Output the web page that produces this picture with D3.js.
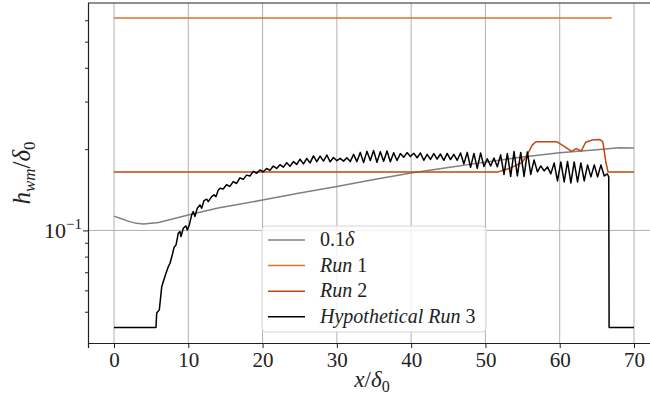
<!DOCTYPE html>
<html>
<head>
<meta charset="utf-8">
<script src="https://cdn.jsdelivr.net/npm/d3@7"></script>
<style>
  body { margin: 0; background: #fff; }
  svg { display: block; }
  text { font-family: "Liberation Serif", "DejaVu Serif", serif; fill: #222; }
</style>
</head>
<body>
<script>
// x positions in units of delta_0
const xTicks = [0, 10, 20, 30, 40, 50, 60, 70];
const yMinorTicks = [0.05, 0.06, 0.07, 0.08, 0.09, 0.2, 0.3, 0.4, 0.5, 0.6];
const yMajorTicks = [0.1];

// 0.1 delta (grey)
const deltaX = [0, 1, 2, 3, 4, 6, 8, 10, 14, 20, 25, 30, 35, 40, 45, 50, 55, 60, 65, 68, 70];
const deltaY = [0.113, 0.1105, 0.108, 0.1062, 0.1057, 0.107, 0.1105, 0.1141, 0.121, 0.1295, 0.1375,
  0.1455, 0.1545, 0.163, 0.171, 0.179, 0.187, 0.194, 0.199, 0.2025, 0.202];

// Run 1
const run1X = [0, 67];
const run1Y = [0.612, 0.612];

// Run 2
const run2X = [0, 51.7, 53.3, 54.9, 55.6, 56.3, 56.8, 59.6, 60.7, 61.6, 62.2, 62.5, 62.9, 63.5, 64.3, 65.4, 65.8, 66.2, 66.5, 70];
const run2Y = [0.1647, 0.1647, 0.170, 0.178, 0.19, 0.207, 0.213, 0.213, 0.204, 0.196, 0.201, 0.199, 0.197, 0.212,
  0.216, 0.217, 0.213, 0.18, 0.1647, 0.1647];

// Hypothetical Run 3
const run3 = [
  [0, 0.0437], [5.65, 0.0437], [5.75, 0.0495], [6.10, 0.0508], [6.29, 0.057], [6.42, 0.0617], [6.64, 0.0647],
  [7.0, 0.0694], [7.31, 0.0734], [7.54, 0.0756], [7.9, 0.0823], [8.08, 0.0864], [8.35, 0.0884], [8.65, 0.0976],
  [8.88, 0.099], [9.02, 0.0949], [9.33, 0.1019], [9.69, 0.1039], [9.87, 0.1004], [10.13, 0.1048], [10.46, 0.1142],
  [10.67, 0.1174], [10.9, 0.1127], [11.21, 0.1208], [11.57, 0.1243], [11.8, 0.1208], [12.11, 0.1289], [12.48, 0.1305],
  [12.69, 0.1278], [13.15, 0.1334], [13.46, 0.1354], [13.73, 0.1334], [14.04, 0.1412], [14.27, 0.1433],
  [14.7, 0.1424], [15.15, 0.1476], [15.6, 0.1455], [16.05, 0.1516], [16.5, 0.1492], [16.95, 0.1565], [17.4, 0.1545],
  [17.85, 0.1602], [18.3, 0.1591], [18.75, 0.1654], [19.2, 0.1628], [19.65, 0.1675], [20.1, 0.1649], [20.55, 0.1695],
  [21.0, 0.1669], [21.45, 0.1731], [21.9, 0.1697], [22.35, 0.1752], [22.8, 0.1715], [23.25, 0.1781], [23.7, 0.1728],
  [24.15, 0.1798], [24.6, 0.1755], [25.05, 0.1835], [25.5, 0.1763], [25.95, 0.1846], [26.4, 0.1778], [26.85, 0.1888],
  [27.3, 0.1796], [27.75, 0.1885], [28.2, 0.1806], [28.65, 0.1902], [29.1, 0.1795], [29.55, 0.1862], [30.0, 0.1812],
  [30.45, 0.1848], [30.9, 0.1805], [31.35, 0.1858], [31.8, 0.1798], [32.25, 0.1912], [32.7, 0.1798], [33.15, 0.1945],
  [33.6, 0.1785], [34.05, 0.1962], [34.5, 0.1815], [34.95, 0.1975], [35.4, 0.1788], [35.85, 0.1955], [36.3, 0.1802],
  [36.75, 0.1968], [37.2, 0.1795], [37.65, 0.1938], [38.1, 0.1815], [38.55, 0.1925], [39.0, 0.1866], [39.45, 0.1942],
  [39.9, 0.1877], [40.35, 0.193], [40.8, 0.1858], [41.25, 0.1935], [41.7, 0.1818], [42.15, 0.1912], [42.6, 0.1832],
  [43.05, 0.1926], [43.5, 0.1838], [43.95, 0.1918], [44.4, 0.1818], [44.85, 0.1928], [45.3, 0.183], [45.75, 0.1912],
  [46.2, 0.1818], [46.65, 0.1935], [47.1, 0.1763], [47.55, 0.1945], [48.0, 0.1712], [48.45, 0.1928], [48.9, 0.1698],
  [49.35, 0.1936], [49.8, 0.1725], [50.25, 0.1842], [50.7, 0.1731], [51.15, 0.1855], [51.6, 0.172], [52.05, 0.1904],
  [52.5, 0.1612], [52.95, 0.1928], [53.4, 0.1585], [53.85, 0.196], [54.3, 0.1592], [54.75, 0.1945], [55.2, 0.1585],
  [55.65, 0.1952], [56.1, 0.1612], [56.55, 0.1824], [57.0, 0.1647], [57.45, 0.1733], [57.9, 0.1661], [58.35, 0.1719],
  [58.8, 0.1619], [59.25, 0.1778], [59.7, 0.1525], [60.15, 0.1793], [60.6, 0.1512], [61.05, 0.1801], [61.5, 0.1499],
  [61.95, 0.1793], [62.4, 0.1512], [62.85, 0.1778], [63.3, 0.1525], [63.75, 0.1748], [64.2, 0.1578], [64.65, 0.1748],
  [65.1, 0.1578], [65.55, 0.1748], [66.0, 0.1591], [66.4, 0.162], [66.6, 0.158], [66.65, 0.0437], [70, 0.0437]
];

const w = 650, h = 398;
const pl = 88, pr = 660, pt = 3, pb = 343;

const svg = d3.select("body").append("svg")
  .attr("width", w)
  .attr("height", h);

const x = d3.scaleLinear().domain([-3.5, 73.5]).range([pl, pr]);
const y = d3.scaleLog().domain([0.0383, 0.695]).range([pb, pt]);

svg.append("clipPath").attr("id", "plot")
  .append("rect").attr("x", pl).attr("y", pt).attr("width", pr - pl).attr("height", pb - pt);

// grid
svg.append("g").selectAll("line").data(xTicks).enter().append("line")
  .attr("x1", d => x(d)).attr("x2", d => x(d))
  .attr("y1", pt).attr("y2", pb)
  .attr("stroke", "#b0b0b0").attr("stroke-width", 1);
svg.append("g").selectAll("line").data(yMajorTicks).enter().append("line")
  .attr("x1", pl).attr("x2", pr)
  .attr("y1", d => y(d)).attr("y2", d => y(d))
  .attr("stroke", "#b0b0b0").attr("stroke-width", 1);

const line = d3.line().x(d => x(d[0])).y(d => y(d[1]));
const plot = svg.append("g").attr("clip-path", "url(#plot)");

const series = [
  { name: "delta", pts: deltaX.map((d, i) => [d, deltaY[i]]), color: "#808080" },
  { name: "run1", pts: run1X.map((d, i) => [d, run1Y[i]]), color: "#e2702a" },
  { name: "run2", pts: run2X.map((d, i) => [d, run2Y[i]]), color: "#c04810" },
  { name: "run3", pts: run3, color: "#000000" }
];

plot.selectAll("path").data(series).enter().append("path")
  .attr("d", d => line(d.pts))
  .attr("fill", "none")
  .attr("stroke", d => d.color)
  .attr("stroke-width", 1.5)
  .attr("stroke-linejoin", "round");

// axes
const xAxis = svg.append("g").attr("transform", `translate(0,${pb})`)
  .call(d3.axisBottom(x).tickValues(xTicks).tickSize(5).tickPadding(4).tickFormat(d3.format("d")));
const yMinor = svg.append("g").attr("transform", `translate(${pl},0)`)
  .call(d3.axisLeft(y).tickValues(yMinorTicks).tickSize(3).tickFormat(""));
const yMajor = svg.append("g").attr("transform", `translate(${pl},0)`)
  .call(d3.axisLeft(y).tickValues(yMajorTicks).tickSize(5).tickFormat(""));

svg.selectAll(".domain").attr("stroke", "#222").attr("stroke-width", 1.2);
svg.selectAll(".tick line").attr("stroke", "#222").attr("stroke-width", 1);
xAxis.selectAll("text").attr("font-size", 21).attr("fill", "#222")
  .style("font-family", "Liberation Serif, serif");
yMinor.select(".domain").remove();
yMajor.select(".domain").attr("d", `M0.5,${pt}V${pb}`);

// top spine
svg.append("line").attr("x1", pl).attr("x2", pr).attr("y1", pt).attr("y2", pt)
  .attr("stroke", "#222").attr("stroke-width", 1.2);

// 10^-1 label
const yl = svg.append("text").attr("x", 82).attr("y", y(0.1) + 8).attr("text-anchor", "end").attr("font-size", 22);
yl.append("tspan").text("10");
yl.append("tspan").attr("dy", -9).attr("font-size", 15).text("\u22121");

// axis titles
const xt = svg.append("text").attr("x", x(35) - 2).attr("y", 387).attr("text-anchor", "middle").attr("font-size", 23);
xt.append("tspan").attr("font-style", "italic").text("x");
xt.append("tspan").text("/");
xt.append("tspan").attr("font-style", "italic").text("\u03b4");
xt.append("tspan").attr("dy", 5).attr("font-size", 16).text("0");

const yt = svg.append("text").attr("transform", `translate(30,${(pt + pb) / 2}) rotate(-90)`)
  .attr("text-anchor", "middle").attr("font-size", 25);
yt.append("tspan").attr("font-style", "italic").text("h");
yt.append("tspan").attr("font-style", "italic").attr("dy", 5).attr("font-size", 17).text("wm");
yt.append("tspan").attr("dy", -5).text("/");
yt.append("tspan").attr("font-style", "italic").text("\u03b4");
yt.append("tspan").attr("dy", 5).attr("font-size", 17).text("0");

// legend
const lg = svg.append("g");
lg.append("rect").attr("x", 262).attr("y", 226).attr("width", 224).attr("height", 106)
  .attr("rx", 4).attr("fill", "#fff").attr("fill-opacity", 0.8)
  .attr("stroke", "#d6d6d6").attr("stroke-width", 1);

const legendRows = [
  { color: "#808080", parts: [["0.1", "normal"], ["\u03b4", "italic"]] },
  { color: "#e2702a", parts: [["Run ", "italic"], ["1", "normal"]] },
  { color: "#c04810", parts: [["Run ", "italic"], ["2", "normal"]] },
  { color: "#000000", parts: [["Hypothetical Run ", "italic"], ["3", "normal"]] }
];
legendRows.forEach((r, i) => {
  const cy = 240 + i * 25.6;
  lg.append("line").attr("x1", 268).attr("x2", 305).attr("y1", cy).attr("y2", cy)
    .attr("stroke", r.color).attr("stroke-width", 1.5);
  const t = lg.append("text").attr("x", 320).attr("y", cy + 6).attr("font-size", 20);
  r.parts.forEach(p => t.append("tspan").attr("font-style", p[1]).text(p[0]));
});
</script>
</body>
</html>
